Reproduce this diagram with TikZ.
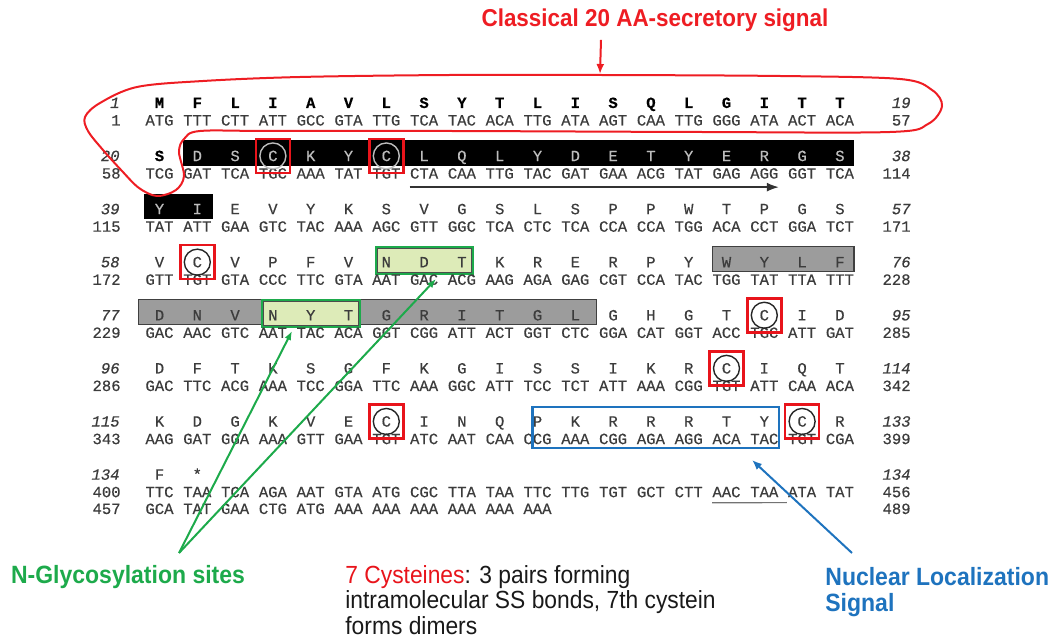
\documentclass[tikz,border=0pt]{standalone}
\usepackage{fontspec}
\setmainfont{Liberation Sans}
\newfontfamily\seqfont[FakeBold=0.4]{Liberation Mono}
\newfontfamily\labfont[FakeStretch=0.92]{Liberation Sans}
\usetikzlibrary{arrows.meta, fit, backgrounds}
\definecolor{sigred}{HTML}{EE1D23}
\definecolor{cysred}{HTML}{E8141B}
\definecolor{glygreen}{HTML}{1DAA4B}
\definecolor{glyfill}{HTML}{DDEBB8}
\definecolor{nlsblue}{HTML}{1E73BE}
\definecolor{seqgray}{HTML}{3C3C3C}
\definecolor{boxgray}{HTML}{9C9C9C}
\definecolor{boxtext}{HTML}{BDBDBD}

\begin{document}
\begin{tikzpicture}[x=0.5pt, y=-0.5pt,
    aa/.style={font=\seqfont\fontsize{7.8}{9}\selectfont, text=seqgray, inner sep=0pt, anchor=base},
    sigaa/.style={aa, font=\seqfont\fontsize{7.8}{9}\selectfont\bfseries, text=black},
    invaa/.style={aa, text=boxtext},
    nt/.style={aa},
    lnum/.style={aa, anchor=base east},
    inum/.style={lnum, font=\seqfont\fontsize{7.8}{9}\selectfont\itshape},
    blackbox/.style={fill=black, inner ysep=3.5pt, yshift=1.5pt},
    greybox/.style={fill=boxgray, draw=black!75, line width=0.6pt, inner ysep=3.5pt, yshift=1.5pt},
    glybox/.style={fill=glyfill, draw=glygreen, line width=1.1pt, inner ysep=4pt, yshift=1pt},
    nlsbox/.style={draw=nlsblue, line width=1.1pt, inner xsep=0pt, inner ysep=3pt, yshift=1.5pt},
    cysbox/.style={draw=cysred, line width=1.25pt, minimum size=17pt, inner sep=0pt},
    cyscirc/.style={circle, draw=black!85, line width=0.7pt, minimum size=13pt, inner sep=0pt},
    sigloop/.style={draw=sigred, line width=1pt},
    sigarrow/.style={draw=sigred, line width=1pt, -{Latex[length=5pt, width=4pt]}},
    glyarrow/.style={draw=glygreen, line width=1pt, -{Latex[length=4.5pt, width=3.5pt]}},
    nlsarrow/.style={draw=nlsblue, line width=1pt, -{Latex[length=5pt, width=4pt]}},
    label/.style={font=\labfont\bfseries\fontsize{12.5}{13}\selectfont, inner sep=0pt, align=left}
]
\useasboundingbox (0,0) rectangle (1055,641);

% nucleotides
\foreach \r/\seq in {1/{ATG,TTT,CTT,ATT,GCC,GTA,TTG,TCA,TAC,ACA,TTG,ATA,AGT,CAA,TTG,GGG,ATA,ACT,ACA},
    2/{TCG,GAT,TCA,TGC,AAA,TAT,TGT,CTA,CAA,TTG,TAC,GAT,GAA,ACG,TAT,GAG,AGG,GGT,TCA},
    3/{TAT,ATT,GAA,GTC,TAC,AAA,AGC,GTT,GGC,TCA,CTC,TCA,CCA,CCA,TGG,ACA,CCT,GGA,TCT},
    4/{GTT,TGT,GTA,CCC,TTC,GTA,AAT,GAC,ACG,AAG,AGA,GAG,CGT,CCA,TAC,TGG,TAT,TTA,TTT},
    5/{GAC,AAC,GTC,AAT,TAC,ACA,GGT,CGG,ATT,ACT,GGT,CTC,GGA,CAT,GGT,ACC,TGC,ATT,GAT},
    6/{GAC,TTC,ACG,AAA,TCC,GGA,TTC,AAA,GGC,ATT,TCC,TCT,ATT,AAA,CGG,TGT,ATT,CAA,ACA},
    7/{AAG,GAT,GGA,AAA,GTT,GAA,TGT,ATC,AAT,CAA,CCG,AAA,CGG,AGA,AGG,ACA,TAC,TGT,CGA},
    8/{TTC,TAA,TCA,AGA,AAT,GTA,ATG,CGC,TTA,TAA,TTC,TTG,TGT,GCT,CTT,AAC,TAA,ATA,TAT}}
  \foreach \t [count=\c] in \seq
    \node[nt] (n\r-\c) at ({159.5+(\c-1)*37.8}, {125.5+(\r-1)*53.1}) {\t};
\foreach \t [count=\c] in {GCA,TAT,GAA,CTG,ATG,AAA,AAA,AAA,AAA,AAA,AAA}
  \node[nt] (n9-\c) at ({159.5+(\c-1)*37.8}, 514) {\t};

% amino acids
\foreach \a [count=\c] in {M,F,L,I,A,V,L,S,Y,T,L,I,S,Q,L,G,I,T,T}
  \node[sigaa] (a1-\c) at ({159.5+(\c-1)*37.8}, 108) {\a};
\node[sigaa] (a2-1) at (159.5, 161.1) {S};
\foreach \a [count=\c from 2] in {D,S,C,K,Y,C,L,Q,L,Y,D,E,T,Y,E,R,G,S}
  \node[invaa] (a2-\c) at ({159.5+(\c-1)*37.8}, 161.1) {\a};
\foreach \a [count=\c] in {Y,I}
  \node[invaa] (a3-\c) at ({159.5+(\c-1)*37.8}, 214.2) {\a};
\foreach \a [count=\c from 3] in {E,V,Y,K,S,V,G,S,L,S,P,P,W,T,P,G,S}
  \node[aa] (a3-\c) at ({159.5+(\c-1)*37.8}, 214.2) {\a};
\foreach \r/\seq in {4/{V,C,V,P,F,V,N,D,T,K,R,E,R,P,Y,W,Y,L,F},
    5/{D,N,V,N,Y,T,G,R,I,T,G,L,G,H,G,T,C,I,D},
    6/{D,F,T,K,S,G,F,K,G,I,S,S,I,K,R,C,I,Q,T},
    7/{K,D,G,K,V,E,C,I,N,Q,P,K,R,R,R,T,Y,C,R},
    8/{F,*}}
  \foreach \a [count=\c] in \seq
    \node[aa] (a\r-\c) at ({159.5+(\c-1)*37.8}, {108+(\r-1)*53.1}) {\a};

% numbering
\foreach \r/\p/\q/\s/\u in {1/1/1/19/57, 2/20/58/38/114, 3/39/115/57/171, 4/58/172/76/228,
    5/77/229/95/285, 6/96/286/114/342, 7/115/343/133/399, 8/134/400/134/456} {
  \node[inum] (la-\r) at (120, {108+(\r-1)*53.1}) {\p};
  \node[lnum] (ln-\r) at (121, {125.5+(\r-1)*53.1}) {\q};
  \node[inum] (ra-\r) at (911, {108+(\r-1)*53.1}) {\s};
  \node[lnum] (rn-\r) at (911, {125.5+(\r-1)*53.1}) {\u};
}
\node[lnum] (ln-9) at (121, 514) {457};
\node[lnum] (rn-9) at (911, 514) {489};

% boxes behind the sequence
\begin{scope}[on background layer]
  \node[blackbox, inner xsep=4.5pt, fit=(a2-2)(a2-19)] (mature) {};
  \node[blackbox, inner xsep=5.2pt, fit=(a3-1)(a3-2)] (mature2) {};
  \node[greybox, inner xsep=4.5pt, fit=(a4-16)(a4-19)] (wylf) {};
  \node[greybox, inner xsep=8pt, fit=(a5-1)(a5-12)] (dngl) {};
  \node[glybox, inner xsep=2.8pt, fit=(a4-7)(a4-9)] (ndt) {};
  \node[glybox, inner xsep=3pt, fit=(a5-4)(a5-6)] (nyt) {};
  \draw[black!70, line width=0.4pt] ([shift={(2.5,-2.5)}]ndt.south west) rectangle ([shift={(-2.5,2.5)}]ndt.north east);
  \draw[black!70, line width=0.4pt] ([shift={(2.5,-2.5)}]nyt.south west) rectangle ([shift={(-2.5,2.5)}]nyt.north east);
\end{scope}
\node[nlsbox, fit=(a7-11)(n7-17)] (nls) {};

% cysteines
\foreach \cell in {2-4, 2-7}
  \node[cyscirc, draw=boxtext] at (a\cell) {};
\foreach \cell in {4-2, 5-17, 6-16, 7-7, 7-18}
  \node[cyscirc] at (a\cell) {};
\foreach \cell in {2-4, 2-7, 4-2, 5-17, 6-16, 7-7, 7-18}
  \node[cysbox] (cys-\cell) at (a\cell) {};

% underlines
\draw[black!80, line width=0.7pt, -{Latex[length=6pt, width=4.5pt]}] ([yshift=-4pt]n2-8.south west) -- ([yshift=-4pt]n2-17.south east);
\draw[black!55, line width=0.6pt] ([yshift=-2.5pt]n8-16.south west) -- ([yshift=-2.5pt, xshift=4pt]n8-17.south east);

% signal peptide
\draw[sigloop] plot[smooth cycle, tension=0.55] coordinates {
  (100,103) (137,87) (203,81) (300,77) (450,75) (600,75) (780,76) (900,79) (932,90)
  (942,106) (928,124) (890,132) (700,132) (450,131) (270,131) (200,131) (184,139)
  (179,152) (184,176) (176,190) (157,196) (139,188) (122,171) (103,150) (88,131) (85,117)};
\node[label, text=sigred, font=\labfont\bfseries\fontsize{12.2}{13}\selectfont] (sigtitle) at (655,20) {Classical 20 AA-secretory signal};
\coordinate (sigtip) at (600,74);
\draw[sigarrow] (sigtitle.south -| sigtip) ++(1,8) -- (sigtip);

% labels below
\node[label, text=glygreen] (glylab) at (128,577) {N-Glycosylation sites};
\coordinate (glyroot) at (179,553);
\coordinate (glytipa) at (292,331);
\coordinate (glytipb) at (436,279);
\draw[glyarrow] (glyroot) -- (glytipa);
\draw[glyarrow] (glyroot) -- (glytipb);

\node[label, anchor=north west, font=\labfont\fontsize{12.4}{12.8}\selectfont, text=black!90] (cyslab) at (345,565)
  {\textcolor{cysred}{7 Cysteines}: 3 pairs forming\\intramolecular SS bonds, 7th cystein\\forms dimers};

\node[label, anchor=north west, text=nlsblue] (nlslab) at (825,567) {Nuclear Localization\\Signal};
\coordinate (nlsroot) at (852,553);
\coordinate (nlstip) at (752,460);
\draw[nlsarrow] (nlsroot) -- (nlstip);

\end{tikzpicture}
\end{document}
